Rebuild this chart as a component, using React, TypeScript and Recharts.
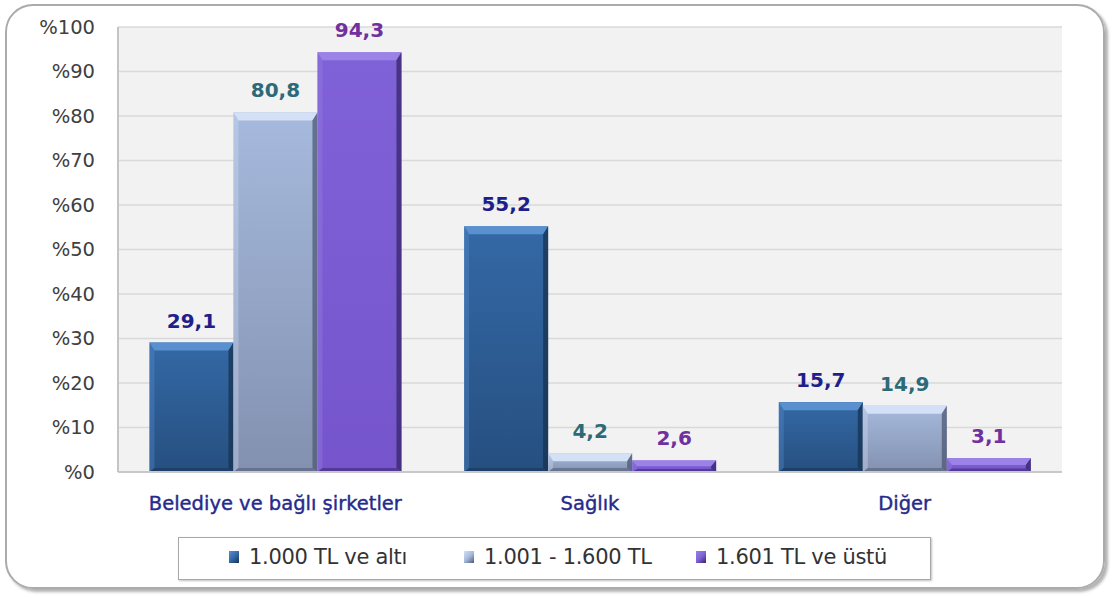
import React from 'react';
import { BarChart, Bar, XAxis, YAxis, CartesianGrid, LabelList } from 'recharts';

const categories = ['Belediye ve bağlı şirketler', 'Sağlık', 'Diğer'];
const seriesNames = ['1.000 TL ve altı', '1.001 - 1.600 TL', '1.601 TL ve üstü'];
const lowIncome = [29.1, 55.2, 15.7];
const midIncome = [80.8, 4.2, 14.9];
const highIncome = [94.3, 2.6, 3.1];
const yTicks = [0, 10, 20, 30, 40, 50, 60, 70, 80, 90, 100];

const data = categories.map((name, i) => ({
  name,
  s1: lowIncome[i],
  s2: midIncome[i],
  s3: highIncome[i],
}));

// colours per series: body top, body bottom, bevel light, bevel dark, label
const PALETTE = [
  { top: '#3469a6', bottom: '#264f80', light: '#5a90d0', dark: '#173352', label: '#1f1f8c' },
  { top: '#a6badd', bottom: '#8391b0', light: '#d3e0f5', dark: '#4f5a73', label: '#2d6a77' },
  { top: '#8062d8', bottom: '#7655cc', light: '#9b82e6', dark: '#36246a', label: '#7030a0' },
];

const FONT = '"DejaVu Sans", Verdana, sans-serif';

function BevelBar(props: any) {
  const { x, y, width, height, idx } = props;
  if (!height || height <= 0) return null;
  const c = PALETTE[idx];
  const b = Math.min(8, height / 2, width / 2);
  const s = Math.min(5, width / 2);
  const gid = `grad${idx}`;
  return (
    <g>
      <defs>
        <linearGradient id={gid} x1="0" y1="0" x2="0" y2="1">
          <stop offset="0%" stopColor={c.top} />
          <stop offset="100%" stopColor={c.bottom} />
        </linearGradient>
      </defs>
      <rect x={x} y={y} width={width} height={height} fill={`url(#${gid})`} />
      <polygon points={`${x},${y} ${x + width},${y} ${x + width - s},${y + b} ${x + s},${y + b}`} fill={c.light} />
      <polygon points={`${x},${y} ${x + s},${y + b} ${x + s},${y + height - b / 2} ${x},${y + height}`} fill={c.light} opacity={0.35} />
      <polygon points={`${x + width},${y} ${x + width},${y + height} ${x + width - s},${y + height - b / 2} ${x + width - s},${y + b}`} fill={c.dark} opacity={0.75} />
      <polygon points={`${x},${y + height} ${x + width},${y + height} ${x + width - s},${y + height - b / 2} ${x + s},${y + height - b / 2}`} fill={c.dark} opacity={0.55} />
    </g>
  );
}

const fmt = (v: any) => String(v).replace('.', ',');

function Legend() {
  const starts = [228, 463, 695];
  return (
    <div
      style={{
        position: 'absolute', left: 178, top: 537, width: 753, height: 43,
        border: '1px solid #a8a8a8', boxShadow: '1px 1px 2px rgba(0,0,0,0.25)', background: '#fff',
        boxSizing: 'border-box',
      }}
    >
      {seriesNames.map((n, i) => (
        <div key={n} style={{ position: 'absolute', left: starts[i] - 178, top: 7, display: 'flex', alignItems: 'center', fontFamily: FONT, fontSize: 21, color: '#333', letterSpacing: -0.3 }}>
          <span style={{
            display: 'inline-block', width: 10, height: 12, marginRight: 10,
            background: `linear-gradient(135deg, ${PALETTE[i].light}, ${PALETTE[i].top} 50%, ${PALETTE[i].dark})`,
          }} />
          {n}
        </div>
      ))}
    </div>
  );
}

export default function App() {
  return (
    <div style={{ position: 'absolute', left: 0, top: 0, width: 1115, height: 598, background: '#fff' }}>
      <div style={{
        position: 'absolute', left: 5, top: 4, width: 1100, height: 585,
        border: '2px solid #ababab', borderRadius: 28, boxShadow: '3px 3px 3px rgba(0,0,0,0.3)', boxSizing: 'border-box',
      }} />
      <div style={{ position: 'absolute', left: 0, top: 0 }}>
        <BarChart
          width={1115}
          height={598}
          data={data}
          margin={{ top: 27, right: 53, left: 0, bottom: 66 }}
          barCategoryGap="10%"
          barGap={0}
        >
          <CartesianGrid vertical={false} fill="#f2f2f2" stroke="#d9d9d9" strokeWidth={1.5} />
          <XAxis
            dataKey="name"
            height={60}
            tickSize={0}
            tickMargin={24}
            axisLine={{ stroke: '#c8c8c8', strokeWidth: 2 }}
            tick={{ fill: '#262a8c', stroke: '#262a8c', strokeWidth: 0.4, fontSize: 19.5, fontFamily: FONT }}
          />
          <YAxis
            width={118}
            domain={[0, 100]}
            ticks={yTicks}
            interval={0}
            tickSize={0}
            tickMargin={23}
            tickFormatter={(v) => `%${v}`}
            axisLine={{ stroke: '#c4c4c4', strokeWidth: 2 }}
            tick={{ fill: '#404040', fontSize: 19.5, fontFamily: FONT }}
          />
          {['s1', 's2', 's3'].map((k, i) => (
            <Bar key={k} dataKey={k} isAnimationActive={false} shape={(p: any) => <BevelBar {...p} idx={i} />}>
              <LabelList
                dataKey={k}
                position="top"
                offset={15}
                formatter={fmt}
                style={{ fill: PALETTE[i].label, fontSize: 20, fontWeight: 'bold', fontFamily: FONT }}
              />
            </Bar>
          ))}
        </BarChart>
      </div>
      <Legend />
    </div>
  );
}
